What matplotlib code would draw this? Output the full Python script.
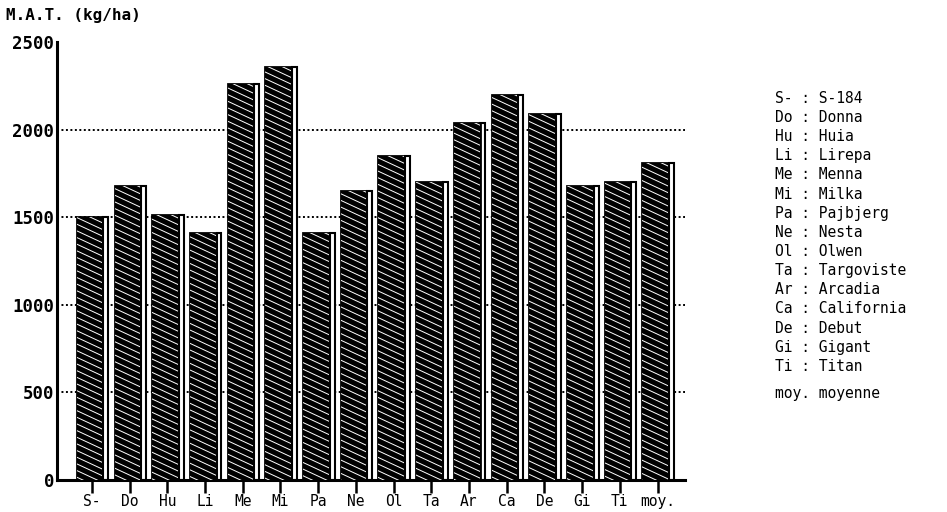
import matplotlib.pyplot as plt
from matplotlib.collections import LineCollection
import numpy as np

codes = ['S-', 'Do', 'Hu', 'Li', 'Me', 'Mi', 'Pa', 'Ne', 'Ol', 'Ta',
         'Ar', 'Ca', 'De', 'Gi', 'Ti', 'moy.']
names = ['S-184', 'Donna', 'Huia', 'Lirepa', 'Menna', 'Milka', 'Pajbjerg',
         'Nesta', 'Olwen', 'Targoviste', 'Arcadia', 'California', 'Debut',
         'Gigant', 'Titan']
mat = [1500, 1680, 1510, 1410, 2260, 2360, 1410, 1650, 1850, 1700,
       2040, 2200, 2090, 1680, 1700, 1810]
yticks = [0, 500, 1000, 1500, 2000, 2500]

plt.rcParams['font.family'] = ['DejaVu Sans Mono']

fig = plt.figure(figsize=(9.47, 5.12), dpi=100)
ax = fig.add_axes([0.060, 0.0625, 0.663, 0.8555])
ax.set_xlim(-0.93, 15.72)
ax.set_ylim(0, 2500)

x = np.arange(len(codes))
# dotted grid behind the bars
for v in yticks[1:-1]:
    ax.axhline(v, color='black', linestyle=(0, (1.0, 1.3)), linewidth=1.4, zorder=0)

# side face (3D effect)
ax.bar(x + 0.37, mat, width=0.13, facecolor='white', edgecolor='black',
       linewidth=1.5, zorder=2)
# front face, black
front = ax.bar(x - 0.06, mat, width=0.68, facecolor='black', edgecolor='black',
               linewidth=2.0, zorder=3)

# shallow white hatch lines, clipped to each front face
slope = 100.0      # kg/ha drop per category unit
gap = 38.0         # vertical spacing of hatch lines
offs = np.arange(0, 2500 + 20 * slope, gap)
segs = [[(-1.0, b), (16.0, b - 17.0 * slope)] for b in offs]
for p in front.patches:
    lc = LineCollection(segs, colors='white', linewidths=0.7, zorder=4)
    ax.add_collection(lc)
    lc.set_clip_path(p)

ax.set_yticks(yticks)
ax.set_yticklabels([str(v) for v in yticks], fontsize=12.5, fontweight='bold')
ax.tick_params(axis='y', length=0, pad=2)
ax.set_xticks(x)
ax.set_xticklabels(codes, fontsize=10.5)
ax.tick_params(axis='x', length=9, width=1.8, pad=1)
for s in ['top', 'right']:
    ax.spines[s].set_visible(False)
ax.spines['left'].set_linewidth(2.2)
ax.spines['bottom'].set_linewidth(2.2)

fig.text(0.006, 0.97, 'M.A.T. (kg/ha)', fontsize=11.5, fontweight='bold',
         va='center', ha='left')

# key
y0 = 0.808
step = 0.0374
for i, (c, n) in enumerate(zip(codes[:-1], names)):
    fig.text(0.818, y0 - i * step, f'{c:<2} : {n}', fontsize=10.5, va='center', ha='left')
fig.text(0.818, 0.232, 'moy. moyenne', fontsize=10.5, va='center', ha='left')

fig.savefig('out.png', dpi=100)
